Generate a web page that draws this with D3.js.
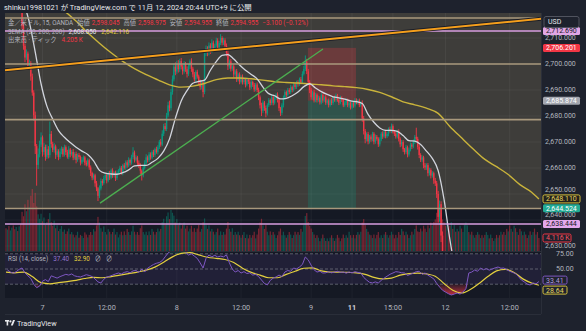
<!DOCTYPE html>
<html>
<head>
<meta charset="utf-8">
<title>金／米ドル 15分足</title>
<script src="https://cdn.jsdelivr.net/npm/d3@7"></script>
<style>
  html, body { margin:0; padding:0; background:#1e222d; overflow:hidden; }
  svg { display:block; }
  text { font-family: Roboto, "Noto Sans CJK JP", "Liberation Sans", sans-serif; }
</style>
</head>
<body>
<svg id="chart" width="586" height="331"></svg>
<script>
// ---------- data: XAUUSD 15-minute bars ----------
const firstOpen = 2727.6;
const close = [
 2727.2,2728.0,2726.8,2727.5,2728.6,2727.4,2726.1,2727.0,2725.6,2726.8,
 2724.4,2714.5,2707.0,2702.5,2704.0,2699.3,2700.4,2695.2,2689.0,2680.3,
 2668.4,2661.2,2665.3,2669.0,2671.8,2666.2,2668.1,2664.3,2667.2,2665.0,
 2673.1,2669.2,2667.0,2668.3,2665.1,2666.4,2664.2,2666.3,2667.4,2665.2,
 2668.0,2666.1,2664.3,2667.1,2665.3,2666.2,2664.0,2665.4,2663.1,2665.0,
 2664.2,2662.1,2663.2,2664.1,2662.0,2661.3,2663.0,2660.2,2658.1,2656.3,
 2657.2,2654.1,2652.2,2649.3,2652.1,2655.0,2654.2,2656.1,2657.3,2655.2,
 2658.0,2656.3,2659.1,2657.2,2658.3,2656.1,2658.2,2659.0,2660.1,2658.2,
 2661.0,2660.1,2662.2,2661.0,2663.1,2662.0,2664.2,2666.0,2663.2,2664.1,
 2662.0,2661.1,2659.0,2657.2,2660.1,2662.0,2664.1,2663.0,2665.2,2664.0,
 2666.1,2665.0,2667.2,2666.1,2668.0,2670.1,2669.0,2673.2,2676.1,2675.0,
 2680.2,2684.1,2683.0,2689.2,2694.1,2699.0,2697.1,2700.2,2698.0,2701.1,
 2699.0,2697.2,2700.1,2698.0,2696.2,2699.1,2701.0,2698.2,2696.0,2694.1,
 2697.0,2695.2,2693.0,2691.1,2693.0,2689.2,2704.1,2706.0,2704.2,2707.1,
 2705.0,2708.2,2706.0,2707.1,2709.0,2706.2,2708.1,2710.0,2708.2,2709.1,
 2707.0,2704.2,2699.1,2701.0,2698.2,2699.1,2696.0,2697.2,2694.1,2696.0,
 2693.2,2695.1,2693.0,2694.2,2692.1,2694.0,2693.2,2691.0,2693.1,2692.0,
 2690.2,2692.1,2690.0,2687.2,2684.1,2682.0,2685.2,2683.1,2681.0,2684.2,
 2686.1,2685.0,2687.2,2685.1,2687.0,2688.2,2686.1,2683.0,2681.2,2684.1,
 2687.0,2689.2,2688.1,2690.0,2689.2,2691.1,2690.0,2692.2,2691.1,2693.0,
 2692.2,2694.1,2693.0,2696.2,2698.1,2701.0,2697.2,2693.1,2690.0,2687.2,
 2689.1,2686.0,2688.2,2686.1,2687.0,2685.2,2688.1,2686.0,2687.2,2685.1,
 2686.0,2684.2,2686.1,2685.0,2687.2,2686.1,2688.0,2686.2,2685.1,2687.0,
 2686.2,2684.1,2685.0,2686.2,2684.1,2685.0,2683.2,2685.1,2684.0,2686.2,
 2685.1,2686.0,2684.2,2685.1,2679.0,2674.2,2671.1,2673.0,2670.2,2672.1,
 2671.0,2673.2,2670.1,2672.0,2671.2,2669.1,2671.0,2673.2,2672.1,2674.0,
 2672.2,2673.1,2675.0,2674.2,2676.1,2674.0,2673.2,2672.1,2674.0,2671.2,
 2669.1,2670.0,2667.2,2666.1,2668.0,2665.2,2667.1,2669.0,2668.2,2670.1,
 2672.0,2671.2,2668.1,2665.0,2663.2,2664.1,2661.0,2660.2,2661.1,2658.0,
 2659.2,2657.1,2658.0,2655.2,2654.1,2650.0,2641.2,2646.1,2634.0,2622.2,
 2613.1,2607.0,2610.2,2603.1,2599.0,2601.2,2596.1,2598.0,2594.2,2596.1,
 2592.0,2595.2,2591.1,2593.0,2601.2,2609.1,2615.0,2612.2,2616.1,2614.0,
 2617.2,2619.1,2616.0,2618.2,2615.1,2617.0,2616.2,2618.1,2615.0,2617.2,
 2619.1,2617.0,2620.2,2618.1,2619.0,2621.2,2619.1,2620.0,2618.2,2620.1,
 2619.0,2617.2,2618.1,2615.0,2616.2,2613.1,2614.0,2610.2,2611.1,2607.0,
 2608.2,2604.1,2601.0,2602.2,2599.1,2600.0,2597.2,2596.1,2598.0,2596.2,
 2597.1,2599.0,2597.2,2598.1,2598.045,2594.955
];
// wick length above the body / below the body
const wickUp = [
 .8,1.1,.6,.9,1.2,.7,.5,.9,.6,1.0, .7,2.5,1.2,.9,1.6,.8,1.3,.7,1.1,.9,
 1.4,.8,2.2,1.5,1.9,.7,1.6,.9,1.8,1.2, 4.8,1.1,.9,1.3,.7,1.0,.8,1.2,.9,.6,
 1.0,.7,.9,1.3,.6,.8,1.1,.7,.9,.6, .8,.6,1.0,.7,.5,.9,.7,.6,.8,.5,
 .7,.6,.9,.5,1.2,1.0,.7,.9,.6,.8, .7,.9,.6,.8,.5,.7,.9,.6,.8,.7,
 .6,.9,.7,.8,1.0,.6,.9,2.0,.7,.8, .6,.9,.7,.5,.8,1.0,1.2,.7,.9,.8,
 .7,.9,.6,1.0,.8,.7,1.1,1.3,.9,1.2, 1.0,1.4,1.8,1.2,1.5,1.1,1.6,1.0,1.3,.9,
 1.2,.8,1.0,.7,1.1,.9,.8,1.2,.7,.9, .6,.8,.7,1.0,.6,.9,1.0,1.1,.8,1.2,
 .9,1.3,.8,.7,1.1,.9,.8,1.5,.7,1.0, .8,.9,1.2,.7,.9,.6,.8,.7,.9,.6,
 .8,.6,.9,.7,.5,.8,.6,.9,.7,.5, .7,.6,.8,.9,.7,1.0,.8,.6,.9,.7,
 .8,.6,.9,.7,.8,.6,.9,.7,.5,.8, .9,.7,.6,.8,.7,.9,.6,.8,.7,.6,
 .8,.7,.9,1.0,1.2,2.3,1.0,.9,.7,.8, .6,.9,.7,.5,.8,.6,.7,.5,.6,.8,
 .5,.7,.6,.8,.5,.6,.7,.5,.6,.8, .6,.5,.7,.6,.5,.7,.6,.5,.6,.7,
 .6,.5,.7,.6,.9,1.0,.8,.7,.9,.6, .8,.7,.6,.9,.7,.6,.8,.7,.9,.6,
 .7,.8,.6,.9,1.0,.7,.6,.8,.7,.9, .6,.8,.7,.5,.9,.6,.7,.8,.6,.9,
 .7,3.5,.8,.9,.7,.8,.6,.9,.7,.8, .9,.7,.8,.6,1.0,.9,1.2,1.4,1.1,1.6,
 1.8,1.2,1.5,1.0,.9,1.3,.8,1.1,.9,1.2, .8,1.0,.7,.9,1.2,1.4,1.1,.9,1.0,.8,
 .9,.7,.8,1.0,.7,.9,.8,.6,.9,.7, .8,.6,.9,.7,.8,.6,.7,.9,.6,.8,
 .7,.9,.6,.8,.7,.9,.6,.8,.7,.9, .6,.8,.7,.9,.6,.8,.7,.6,.8,.7,
 .6,.8,.7,.9,.93,.93
];
const wickDn = [
 .7,.9,1.0,.6,.8,.9,.7,1.1,.6,.8, .9,1.2,1.5,1.8,.9,1.3,.8,1.6,1.2,2.0,
 3.0,8.0,1.6,1.2,.9,1.8,1.1,1.5,.8,1.3, 1.0,1.4,.9,1.1,1.6,.8,1.2,.7,1.0,.9,
 .8,1.1,.7,.9,1.2,.6,1.0,.8,1.3,.7, .9,1.1,.6,.8,1.0,.7,.6,.9,1.2,1.0,
 .8,1.3,1.1,2.0,.9,.7,1.0,.6,.8,1.1, .7,.9,.6,1.0,.8,1.1,.7,.6,.9,.8,
 1.0,.7,.8,.9,.6,1.0,.7,.8,1.1,.6, .9,1.1,1.3,2.0,.8,.7,.6,.9,.7,.8,
 .6,.8,.7,.6,.9,.7,.8,.6,.9,.7, .8,.7,1.2,.9,1.0,.8,1.4,.9,1.3,1.0,
 1.1,1.3,.9,1.0,1.4,.8,1.0,1.2,1.1,.9, 1.0,.8,1.1,1.0,.9,2.0,.8,1.0,1.2,.9,
 1.1,.8,1.0,.9,.7,1.2,.9,.8,1.0,.9, 1.0,1.2,1.4,.9,1.1,.8,1.2,.9,1.0,.8,
 1.0,.7,.9,.8,1.1,.7,.9,1.0,.7,.8, .9,.7,.8,1.1,1.2,2.0,.9,1.1,1.5,.8,
 .7,.9,.8,1.0,.7,.8,.9,1.1,1.2,.9, .8,.7,.9,.6,.8,.7,.9,.6,.8,.7,
 .9,.6,.8,.7,.6,.8,1.1,1.0,1.2,.9, 1.0,.8,.7,.9,.6,.8,.7,.9,.6,.8,
 .7,.9,.6,.8,.7,.6,.8,.7,.9,.6, .8,.7,.6,.8,.7,.9,.7,.6,.8,.7,
 .6,.7,.8,.6,1.2,1.3,1.6,.9,1.1,.8, .9,.7,1.0,.8,.7,1.0,.8,.7,.9,.6,
 .8,.7,.9,.6,.8,.7,.9,.8,.7,1.0, 1.1,.8,1.0,.9,.7,1.1,.8,.7,.9,.6,
 .8,.9,1.0,1.2,.9,.8,1.1,1.0,.9,1.2, .9,1.1,.8,1.3,1.0,1.5,2.2,1.8,2.5,8.0,
 3.0,2.2,1.8,2.4,1.6,1.9,1.4,1.7,1.5,1.3, 1.6,1.2,1.4,1.1,.9,1.2,1.0,1.3,.8,1.1,
 .9,.8,1.1,.7,.9,.8,1.0,.7,.9,.8, .7,.9,.8,.6,.8,.7,.9,.8,.7,.6,
 .8,.9,.7,1.0,.8,1.1,.9,1.2,1.0,1.3, .9,1.2,1.1,.8,1.0,.9,1.1,.8,.9,.7,
 .8,.9,.7,.8,.6,0
];
// tick volume, thousands
const volumeK = [
 7.2,6.8,7.9,6.5,7.4,8.1,6.9,7.6,6.3,7.8, 8.5,12.4,11.0,14.8,12.6,16.2,13.8,17.5,19.6,15.2,
 18.4,14.1,11.6,10.2,11.8,9.4,10.6,8.3,9.2,10.1, 12.0,9.1,8.0,9.6,7.2,8.1,6.3,7.0,7.9,6.1,
 6.8,5.4,6.2,7.1,5.3,6.0,5.2,4.3,5.0,6.1, 4.2,5.1,4.8,4.1,5.9,5.2,4.3,5.1,6.0,5.1,
 6.9,6.2,8.1,10.8,9.0,7.2,6.1,7.8,6.0,5.2, 6.9,6.1,5.3,6.0,7.1,5.2,6.0,4.3,5.2,6.1,
 5.0,6.2,5.1,7.0,6.0,5.1,6.2,8.0,6.1,5.2, 6.0,5.1,7.2,8.1,6.0,5.2,6.1,5.0,6.2,5.1,
 7.0,6.1,5.2,6.0,7.1,6.2,7.0,9.1,10.2,8.3, 11.0,12.2,10.1,13.0,12.1,11.2,9.0,10.1,8.2,9.0,
 7.1,8.2,9.0,7.1,8.0,6.2,7.1,8.0,6.1,7.2, 6.0,7.1,8.2,6.1,7.0,9.1,10.3,8.2,7.0,8.1,
 6.2,7.0,6.1,5.2,6.0,7.1,5.0,6.2,5.1,6.0, 5.2,7.1,9.2,7.0,6.1,7.2,5.1,6.0,5.2,6.1,
 5.0,4.2,5.1,6.0,4.1,5.2,4.0,5.1,4.2,5.0, 6.1,4.0,5.2,7.1,9.0,10.2,8.1,7.0,8.2,6.1,
 5.0,6.2,5.1,6.0,5.2,4.1,5.0,6.2,7.1,5.0, 6.1,5.0,4.2,5.1,6.0,5.2,4.1,5.0,6.1,5.2,
 6.0,5.1,7.0,6.1,8.2,11.1,12.0,9.2,8.0,7.1, 6.0,5.2,4.1,5.0,4.2,3.1,4.0,5.2,4.1,3.2,
 4.0,3.1,4.2,5.0,4.1,3.2,4.0,5.1,4.2,3.1, 4.0,5.2,4.1,5.0,4.2,6.1,5.0,4.2,5.1,4.0,
 5.1,6.0,5.2,6.1,9.0,10.1,8.2,7.0,6.1,5.2, 5.0,4.1,5.2,4.0,5.1,6.0,4.2,5.0,4.1,5.2,
 6.0,5.1,4.2,5.0,6.1,5.2,4.0,5.1,4.2,6.0, 5.1,7.0,6.2,5.0,6.1,5.2,4.1,5.0,6.1,5.2,
 7.0,8.1,6.2,6.0,7.1,6.2,8.0,7.1,6.0,8.1, 7.2,9.0,8.1,9.2,10.0,12.1,13.0,11.2,12.1,10.0,
 9.1,8.0,9.2,7.1,8.0,9.1,7.0,8.2,6.1,7.0, 6.2,8.0,7.1,6.0,8.2,9.0,8.1,6.0,5.2,6.1,
 5.0,4.2,5.1,6.0,5.2,4.1,5.0,4.2,5.1,6.0, 5.1,4.0,5.2,4.1,3.2,4.0,5.1,4.2,5.0,6.1,
 5.2,6.0,5.1,7.0,6.2,8.1,7.0,6.1,8.0,7.2, 6.0,5.1,7.0,6.2,5.0,6.1,5.2,4.1,5.0,6.2,
 5.1,6.0,7.1,5.2,6.0,4.116
];
// RSI(14, close), one value every second bar starting at bar 1
const rsi = [
 48.7,46,44.5,46.5,49.5,51.3,45,41,37.5,30, 25.5,27.5,34,36,33.5,41,39.5,38,40,41.5,
 43,42,43.5,41,40,39.5,41,42.5,41.5,40, 37,33,31.6,36.5,39.5,40.5,42,43.5,44.7,43.5,
 45.5,46.5,45,47.5,48,45.5,50,46,51,53.5, 56,57.5,58.5,61,66,71,74,77.6,79,76,
 77.6,72,68.4,70,67,64,58,51.3,64,68.4, 66,68,65.8,67,66,68.5,58,50,46,48,
 44.7,46.5,44,45,42,43,40,35.5,31,29, 35,38,39.5,42,40,46,48,47,51.3,50,
 52.6,56,65.8,62,55,49,46,47,44.7,45, 46.5,45,46,47,45.5,46,44.5,46,45,46.5,
 45.5,44.7,39,35.5,32.5,31.6,33,31.6,35,38, 40.5,43,44.7,46.5,46,45,44.7,41.5,43,44.7,
 46.5,47,43,44.7,42,39.5,37,31,26.3,22, 19.7,17.5,15.8,17,18.4,17,19.7,24,44.7,46,
 48.7,47,51.3,49,50.5,48.5,50,51.5,52.6,51, 51.3,49,47,45.5,44,40,35.5,33,30,29,
 31.6,30.5,33.41
];
// RSI-based moving average, every sixth bar; last value sits on the final bar
const rsiMa = [
 46,45,46,40,32,30.5,32,33.5,35,37.5, 39,38.5,40,42,44,46,48.5,52.5,59,66,
 70.5,71.5,68.5,65.5,64,62.5,58.5,51,45.5,42, 38.5,38.5,43,47,51,51.5,47.5,46,46,45.5,
 45,43,39,37,38,42,44,44.7,43.5,40.5, 31,22,18.4,23,31,40,47.5,49.5,45.5,37,
 31.5,28.64
];
// EMA 20, every fourth bar
const ema20 = [
 2727.2,2727.4,2727.0,2723.3,2716.0,2704.7,2692.4,2683.8,2678.8,2674.4,
 2671.8,2669.8,2668.0,2666.5,2665.2,2662.7,2659.1,2658.0,2657.7,2657.6,
 2658.2,2659.3,2660.8,2661.0,2661.0,2662.2,2663.7,2666.5,2671.2,2679.1,
 2685.8,2689.8,2692.6,2693.3,2693.8,2697.6,2700.9,2703.3,2703.6,2701.9,
 2699.6,2697.6,2696.0,2694.3,2691.1,2688.6,2687.8,2686.6,2686.8,2687.8,
 2689.2,2691.3,2692.4,2690.8,2689.4,2688.3,2687.4,2687.0,2686.5,2685.8,
 2685.5,2684.8,2680.6,2677.6,2675.4,2674.5,2674.5,2674.1,2672.5,2670.5,
 2670.3,2669.0,2666.5,2663.7,2659.0,2648.0,2632.6,2620.0,2610.5,2608.7,
 2610.5,2612.4,2614.0,2615.6,2616.8,2617.4,2616.8,2614.9,2611.6,2607.8,
 2604.3,2601.8
];
// EMA 200, every eighth bar; last value sits on the final bar
const ema200 = [
 2733,2731,2728,2726,2722.6,2720.3,2716.5,2712,2708,2704.3,
 2701,2698.2,2695.9,2693.9,2692,2691.1,2691.5,2692.5,2694,2694.6,
 2694.6,2694.3,2693.8,2693.2,2692.9,2692.7,2692.3,2692,2691.6,2691.3,
 2690.9,2690.2,2689.1,2687.4,2685.4,2684.3,2683,2681,2676,2671.6,
 2667.3,2663.3,2660.5,2657.5,2653.6,2650.7,2648.11
];
const timeTickBars = [25, 69, 117, 161, 209, 237, 265, 301, 345];
const timeTickLabels = ["7", "12:00", "8", "12:00", "9", "11", "15:00", "12", "12:00"];
const priceTicks = [2710, 2700, 2690, 2680, 2670, 2660, 2650, 2640, 2630];
const rsiTicks = [75, 50];
const rsiLevels = [70, 50, 30];
// drawings
const zoneTop = 2722, zoneBottom = 2644.4;
const zoneLevels = [2717.7, 2700.0, 2678.6, 2644.4];
const pinkLevels = [2712.69, 2638.444];
const orangeTrend = [[-1, 2697.6], [368, 2717.5]];
const greenTrend = [[64.4, 2646.5], [217.1, 2705.8]];
const shortPosition = {from: 206.8, to: 239.7, stop: 2706.201, entry: 2685.874, target: 2644.524};

// ---------- layout ----------
const W = 586, H = 331;
const pane = {l: 5, r: 541, t: 13, b: 251};
const rsiPane = {t: 252, b: 298};
const N = close.length;
const x = d3.scaleLinear().domain([0, N - 1]).range([6, 6 + 1.46 * (N - 1)]);
const y = d3.scaleLinear().domain([2630, 2700]).range([246, 64]);
const yVol = d3.scaleLinear().domain([0, 20]).range([pane.b, pane.b - 63.2]);
const yRsi = d3.scaleLinear().domain([30, 70]).range([284.2, 253.8]);

const UP = "#089981", DOWN = "#f23645";
const fmt = d3.format(",.3f");

const bars = close.map((c, i) => {
  const o = i ? close[i - 1] : firstOpen;
  return {i, o, c, h: Math.max(o, c) + wickUp[i], l: Math.min(o, c) - wickDn[i], v: volumeK[i]};
});

const svg = d3.select("#chart");
const defs = svg.append("defs");
defs.append("clipPath").attr("id", "clipPrice")
  .append("rect").attr("x", pane.l).attr("y", pane.t).attr("width", pane.r - pane.l).attr("height", pane.b - pane.t);
defs.append("clipPath").attr("id", "clipRsi")
  .append("rect").attr("x", pane.l).attr("y", rsiPane.t).attr("width", pane.r - pane.l).attr("height", rsiPane.b - rsiPane.t);
const gLow = defs.append("linearGradient").attr("id", "gLow").attr("gradientUnits", "userSpaceOnUse")
  .attr("x1", 0).attr("x2", 0).attr("y1", yRsi(30)).attr("y2", yRsi(14));
gLow.append("stop").attr("offset", 0).attr("stop-color", "#f23645").attr("stop-opacity", 0.1);
gLow.append("stop").attr("offset", 1).attr("stop-color", "#f23645").attr("stop-opacity", 0.85);
const gHigh = defs.append("linearGradient").attr("id", "gHigh").attr("gradientUnits", "userSpaceOnUse")
  .attr("x1", 0).attr("x2", 0).attr("y1", yRsi(70)).attr("y2", yRsi(82));
gHigh.append("stop").attr("offset", 0).attr("stop-color", "#089981").attr("stop-opacity", 0.1);
gHigh.append("stop").attr("offset", 1).attr("stop-color", "#089981").attr("stop-opacity", 0.7);

// page background and panes
svg.append("rect").attr("width", W).attr("height", H).attr("fill", "#1e222d");
svg.append("rect").attr("x", pane.l).attr("y", pane.t).attr("width", pane.r - pane.l).attr("height", rsiPane.b - pane.t)
  .attr("fill", "#151924");

// ---------- price pane ----------
const gp = svg.append("g").attr("clip-path", "url(#clipPrice)");
gp.append("rect").attr("x", pane.l).attr("width", pane.r - pane.l)
  .attr("y", y(zoneTop)).attr("height", y(zoneBottom) - y(zoneTop)).attr("fill", "#3e3d3a");

// grid
gp.selectAll(".gx").data(timeTickBars).join("line")
  .attr("x1", d => x(d)).attr("x2", d => x(d)).attr("y1", pane.t).attr("y2", pane.b)
  .attr("stroke", "#ffffff").attr("stroke-opacity", 0.05);
gp.selectAll(".gy").data(priceTicks).join("line")
  .attr("x1", pane.l).attr("x2", pane.r).attr("y1", d => y(d)).attr("y2", d => y(d))
  .attr("stroke", "#ffffff").attr("stroke-opacity", 0.05);

// volume
gp.append("g").selectAll("rect").data(bars).join("rect")
  .attr("x", d => x(d.i) - 0.6).attr("width", 1.2)
  .attr("y", d => yVol(d.v)).attr("height", d => yVol(0) - yVol(d.v))
  .attr("fill", d => d.c >= d.o ? UP : DOWN).attr("fill-opacity", 0.45);

// position tool
gp.append("rect").attr("x", x(shortPosition.from)).attr("width", x(shortPosition.to) - x(shortPosition.from))
  .attr("y", y(shortPosition.stop)).attr("height", y(shortPosition.entry) - y(shortPosition.stop))
  .attr("fill", DOWN).attr("fill-opacity", 0.25);
gp.append("rect").attr("x", x(shortPosition.from)).attr("width", x(shortPosition.to) - x(shortPosition.from))
  .attr("y", y(shortPosition.entry)).attr("height", y(shortPosition.target) - y(shortPosition.entry))
  .attr("fill", UP).attr("fill-opacity", 0.25);

// candles
const gc = gp.append("g");
gc.selectAll(".wick").data(bars).join("rect")
  .attr("x", d => x(d.i) - 0.45).attr("width", 0.9)
  .attr("y", d => y(d.h)).attr("height", d => y(d.l) - y(d.h))
  .attr("fill", d => d.c >= d.o ? UP : DOWN);
gc.selectAll(".body").data(bars).join("rect")
  .attr("x", d => x(d.i) - 0.7).attr("width", 1.4)
  .attr("y", d => y(Math.max(d.o, d.c)))
  .attr("height", d => Math.max(0.8, Math.abs(y(d.o) - y(d.c))))
  .attr("fill", d => d.c >= d.o ? UP : DOWN);

// moving averages
const priceLine = d3.line().x(d => x(d[0])).y(d => y(d[1])).curve(d3.curveMonotoneX);
gp.append("path").attr("d", priceLine(ema200.map((v, n) => [n < ema200.length - 1 ? 8 * n : N - 1, v])))
  .attr("fill", "none").attr("stroke", "#c9b33b").attr("stroke-width", 1.4);
gp.append("path").attr("d", priceLine(ema20.map((v, n) => [4 * n, v])))
  .attr("fill", "none").attr("stroke", "#d1d4dc").attr("stroke-width", 1.3);

// horizontal levels
gp.selectAll(".zone").data(zoneLevels).join("line")
  .attr("x1", pane.l).attr("x2", pane.r).attr("y1", d => y(d)).attr("y2", d => y(d))
  .attr("stroke", "#a8987c").attr("stroke-width", 1.6);
gp.selectAll(".pink").data(pinkLevels).join("line")
  .attr("x1", pane.l).attr("x2", pane.r).attr("y1", d => y(d)).attr("y2", d => y(d))
  .attr("stroke", "#d99ee0").attr("stroke-width", 1.6);

// trend lines
const trend = d3.line().x(d => x(d[0])).y(d => y(d[1]));
gp.append("path").attr("d", trend(orangeTrend)).attr("stroke", "#1b1e28").attr("stroke-width", 3.8).attr("fill", "none");
gp.append("path").attr("d", trend(orangeTrend)).attr("stroke", "#f59f1c").attr("stroke-width", 2).attr("fill", "none");
gp.append("path").attr("d", trend(greenTrend)).attr("stroke", "#4caf50").attr("stroke-width", 1.3).attr("fill", "none");

// legend
const lg = svg.append("g").attr("font-size", 6.3);
function legendLine(yy, parts) {
  const t = lg.append("text").attr("x", 8).attr("y", yy);
  parts.forEach(p => t.append("tspan").attr("fill", p[1]).attr("dx", p[2] || 0).text(p[0]));
}
const red = "#f23645", grey = "#b2b5be";
legendLine(25, [["金／米ドル, 15, OANDA", grey], ["始値", grey, 4], ["2,598.045", red, 2], ["高値", grey, 4], ["2,598.975", red, 2],
  ["安値", grey, 4], ["2,594.955", red, 2], ["終値", grey, 4], ["2,594.955", red, 2], ["−3.100 (−0.12%)", red, 4]]);
legendLine(33.5, [["3EMA (20, 200, 200)", grey], ["2,608.050", "#e8e9ec", 4], ["2,642.116", "#e3cf3f", 5]]);
legendLine(42, [["出来高 · ティック", grey], ["4.205 K", red, 5]]);

// ---------- RSI pane ----------
svg.append("line").attr("x1", pane.l).attr("x2", pane.r).attr("y1", pane.b + 0.5).attr("y2", pane.b + 0.5)
  .attr("stroke", "#2a2e39");
const gr = svg.append("g").attr("clip-path", "url(#clipRsi)");
gr.append("rect").attr("x", pane.l).attr("width", pane.r - pane.l).attr("y", yRsi(70)).attr("height", yRsi(30) - yRsi(70))
  .attr("fill", "#7e57c2").attr("fill-opacity", 0.12);
gr.selectAll(".gx").data(timeTickBars).join("line")
  .attr("x1", d => x(d)).attr("x2", d => x(d)).attr("y1", rsiPane.t).attr("y2", rsiPane.b)
  .attr("stroke", "#ffffff").attr("stroke-opacity", 0.04);
gr.selectAll(".lvl").data(rsiLevels).join("line")
  .attr("x1", pane.l).attr("x2", pane.r).attr("y1", d => yRsi(d)).attr("y2", d => yRsi(d))
  .attr("stroke", "#787b86").attr("stroke-opacity", 0.7).attr("stroke-dasharray", "3,2");
const rsiPts = rsi.map((v, k) => [2 * k + 1, v]);
gr.append("path").attr("fill", "url(#gLow)")
  .attr("d", d3.area().x(d => x(d[0])).y0(yRsi(30)).y1(d => yRsi(Math.min(30, d[1])))(rsiPts));
gr.append("path").attr("fill", "url(#gHigh)")
  .attr("d", d3.area().x(d => x(d[0])).y0(yRsi(70)).y1(d => yRsi(Math.max(70, d[1])))(rsiPts));
gr.append("path").attr("fill", "none").attr("stroke", "#e3cf3f").attr("stroke-width", 1.2)
  .attr("d", d3.line().x(d => x(d[0])).y(d => yRsi(d[1])).curve(d3.curveMonotoneX)(rsiMa.map((v, m) => [Math.min(6 * m, N - 1), v])));
gr.append("path").attr("fill", "none").attr("stroke", "#7e57c2").attr("stroke-width", 1)
  .attr("d", d3.line().x(d => x(d[0])).y(d => yRsi(d[1]))(rsiPts));
const rl = svg.append("text").attr("x", 8).attr("y", 261).attr("font-size", 6.3);
rl.append("tspan").attr("fill", grey).text("RSI (14, close)");
rl.append("tspan").attr("fill", "#9575cd").attr("dx", 5).text("37.40");
rl.append("tspan").attr("fill", "#e3cf3f").attr("dx", 5).text("32.90");
rl.append("tspan").attr("fill", grey).attr("dx", 5).text("∅");
rl.append("tspan").attr("fill", grey).attr("dx", 5).text("∅");

// ---------- time axis ----------
svg.append("line").attr("x1", pane.l).attr("x2", pane.r).attr("y1", 314.5).attr("y2", 314.5).attr("stroke", "#2a2e39");
svg.selectAll(".tl").data(timeTickBars).join("text")
  .attr("x", d => x(d)).attr("y", 310).attr("text-anchor", "middle")
  .attr("font-size", 7.3).attr("fill", (d, i) => timeTickLabels[i] === "11" ? "#d1d4dc" : grey)
  .attr("font-weight", (d, i) => timeTickLabels[i] === "11" ? "bold" : "normal")
  .text((d, i) => timeTickLabels[i]);

// ---------- price axis ----------
svg.append("line").attr("x1", pane.r + 0.5).attr("x2", pane.r + 0.5).attr("y1", pane.t).attr("y2", 314)
  .attr("stroke", "#2a2e39");
const ax = svg.append("g").attr("font-size", 7);

// value tags on the scale (drawn after the tick labels)
const tags = [
  {y: y(pinkLevels[0]), text: fmt(pinkLevels[0]), fill: "#e1a6e6", color: "#131722", w: 37},
  {y: y(shortPosition.stop), text: fmt(shortPosition.stop), fill: "#f23645", color: "#ffffff", w: 37},
  {y: y(shortPosition.entry), text: fmt(shortPosition.entry), fill: "#a3a6af", color: "#ffffff", w: 37},
  {y: y(ema200[ema200.length - 1]), text: fmt(ema200[ema200.length - 1]), fill: "#23221c", stroke: "#d6c03c", color: "#e8d860", w: 37},
  {y: y(shortPosition.target), text: fmt(shortPosition.target), fill: "#22ab94", color: "#ffffff", w: 37},
  {y: y(pinkLevels[1]), text: fmt(pinkLevels[1]), fill: "#e4a8ec", color: "#131722", w: 37},
  {y: yVol(volumeK[N - 1]), text: volumeK[N - 1].toFixed(3) + " K", fill: "#1e222d", stroke: "#f23645", color: "#f7525f", w: 28}
];
const rsiTagY = yRsi(rsi[rsi.length - 1]) - 1.5;
tags.push({y: rsiTagY, text: rsi[rsi.length - 1].toFixed(2), fill: "#1e222d", stroke: "#7e57c2", color: "#b39ddb", w: 24});
tags.push({y: Math.max(yRsi(rsiMa[rsiMa.length - 1]), rsiTagY + 10), text: rsiMa[rsiMa.length - 1].toFixed(2),
  fill: "#1e222d", stroke: "#d6c03c", color: "#e8d860", w: 24});

// tick labels step upward when a tag sits right under them
function tickY(v) {
  let yy = y(v);
  tags.forEach(t => { if (t.y > yy && t.y - yy < 9) yy = t.y - 9; });
  return yy;
}
ax.selectAll(".pt").data(priceTicks).join("text")
  .attr("x", 545).attr("y", d => tickY(d) + 2.4).attr("fill", grey).text(d => fmt(d));
ax.selectAll(".rt").data(rsiTicks).join("text")
  .attr("x", 556).attr("y", d => Math.max(yRsi(d), pane.b + 3) + 2.4).attr("fill", grey).text(d => d.toFixed(2));

function marker(t) {
  ax.append("rect").attr("x", 543).attr("y", t.y - 4).attr("width", t.w).attr("height", 8).attr("rx", 1.5)
    .attr("fill", t.fill).attr("stroke", t.stroke || "none");
  ax.append("text").attr("x", 546).attr("y", t.y + 2.4).attr("fill", t.color).text(t.text);
}
marker(tags[0]);
ax.append("rect").attr("x", 544).attr("y", 16.5).attr("width", 35).attr("height", 11).attr("rx", 2)
  .attr("fill", "#1e222d").attr("stroke", "#50535e");
ax.append("text").attr("x", 548).attr("y", 24.4).attr("fill", "#e8e9ec").text("USD");
tags.slice(1).forEach(marker);

// ---------- header and footer ----------
svg.append("text").attr("x", 4).attr("y", 9.5).attr("font-size", 7.4).attr("fill", "#e8e9ec")
  .text("shinku19981021 が TradingView.com で 11月 12, 2024 20:44 UTC+9 に公開");
const logo = svg.append("g").attr("transform", "translate(5,320)");
logo.append("rect").attr("x", 0).attr("y", 0).attr("width", 4).attr("height", 1.6).attr("fill", "#e8e9ec");
logo.append("rect").attr("x", 1.6).attr("y", 0).attr("width", 1.6).attr("height", 5.5).attr("fill", "#e8e9ec");
logo.append("circle").attr("cx", 5.4).attr("cy", 1.4).attr("r", 1.1).attr("fill", "#e8e9ec");
logo.append("path").attr("d", "M5.8,5.5 L8,0 L10,0 L7.8,5.5 Z").attr("fill", "#e8e9ec");
svg.append("text").attr("x", 17).attr("y", 325.5).attr("font-size", 7.2).attr("fill", "#e8e9ec").text("TradingView");
</script>
</body>
</html>
